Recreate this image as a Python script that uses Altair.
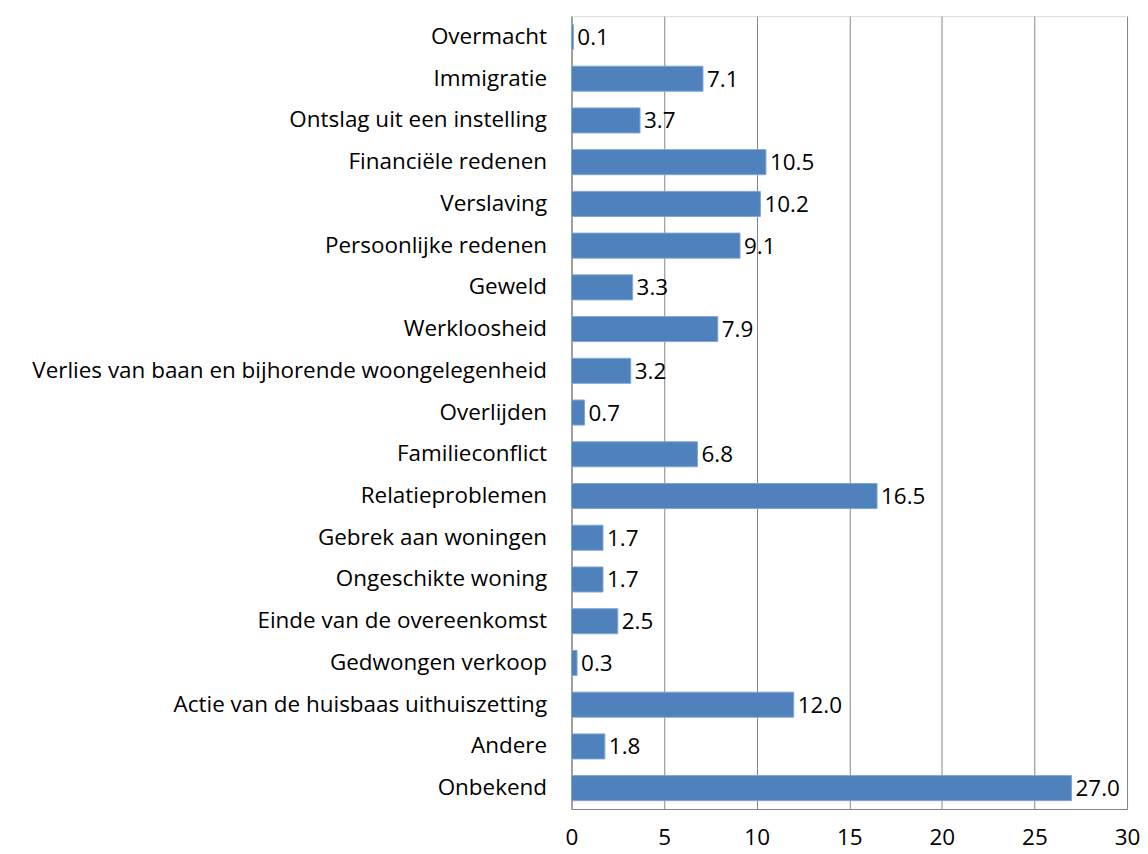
import altair as alt
import pandas as pd

categories = [
    "Overmacht", "Immigratie", "Ontslag uit een instelling", "Financiële redenen",
    "Verslaving", "Persoonlijke redenen", "Geweld", "Werkloosheid",
    "Verlies van baan en bijhorende woongelegenheid", "Overlijden", "Familieconflict",
    "Relatieproblemen", "Gebrek aan woningen", "Ongeschikte woning",
    "Einde van de overeenkomst", "Gedwongen verkoop",
    "Actie van de huisbaas uithuiszetting", "Andere", "Onbekend",
]
values = [0.1, 7.1, 3.7, 10.5, 10.2, 9.1, 3.3, 7.9, 3.2, 0.7, 6.8, 16.5, 1.7, 1.7, 2.5, 0.3, 12.0, 1.8, 27.0]

df = pd.DataFrame({"cat": categories, "val": values})
df["label"] = df["val"].map(lambda v: f"{v:.1f}")

FONT = "Open Sans"
FS = 22.5
y = alt.Y("cat:N", sort=categories, title=None,
          scale=alt.Scale(paddingInner=0.4, paddingOuter=0.2),
          axis=alt.Axis(labelFontSize=FS, labelFont=FONT, labelColor="#000000",
                        ticks=False, labelPadding=25, domainColor="#868686",
                        labelLimit=700, minExtent=565, maxExtent=565))
x = alt.X("val:Q", title=None,
          scale=alt.Scale(domain=[0, 30], nice=False),
          axis=alt.Axis(values=[0, 5, 10, 15, 20, 25, 30], ticks=False,
                        labelFontSize=FS, labelFont=FONT, labelColor="#000000",
                        labelPadding=18, grid=True, gridColor="#868686",
                        gridWidth=1, domainColor="#868686", labelFlush=False,
                        maxExtent=30))

bars = alt.Chart(df).mark_bar(color="#4F81BD", stroke="#7FA6D6", strokeWidth=1).encode(x=x, y=y)
labels = alt.Chart(df).mark_text(align="left", baseline="middle", dx=4, dy=1,
                                 fontSize=FS, font=FONT, color="#000000").encode(
    x="val:Q", y=alt.Y("cat:N", sort=categories), text="label:N")

chart = (bars + labels).properties(
    width=557, height=795,
    padding={"left": 0, "top": 7, "right": 0, "bottom": 6},
).configure_view(stroke=None).configure(background="#ffffff")

chart.save("out.html", embed_options={"renderer": "svg", "actions": False})
